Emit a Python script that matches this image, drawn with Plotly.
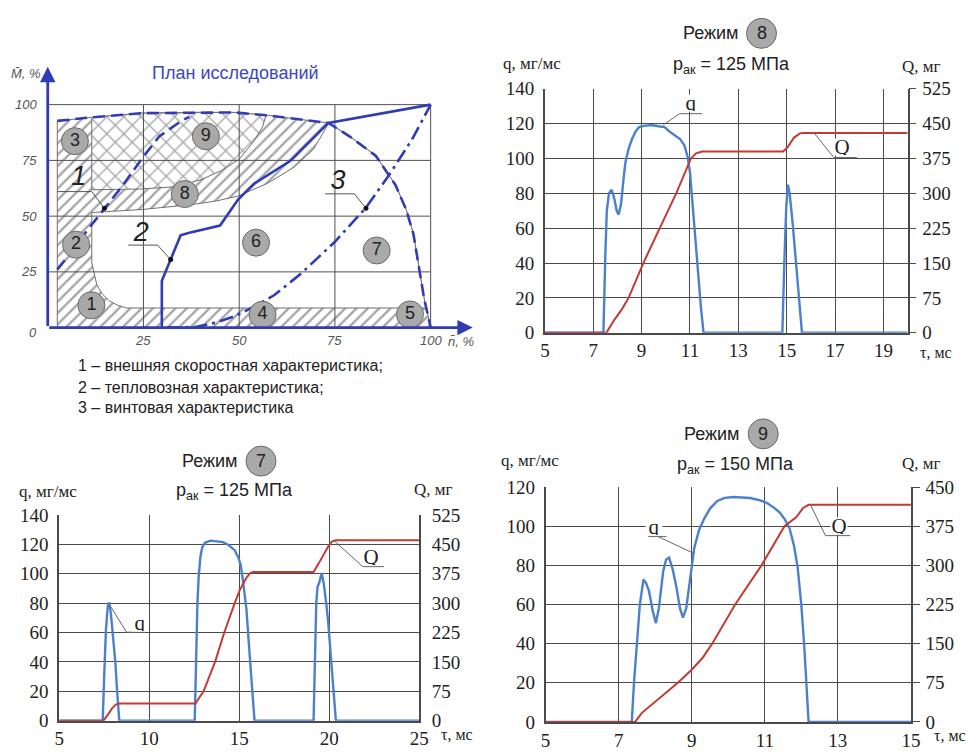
import plotly.graph_objects as go

W, H = 978, 756


def fx(p):
    return p / W


def fy(p):
    return 1 - p / H


# ---------------------------------------------------------------- research plan
GRID_PCT = [25, 50, 75, 100]

# external speed characteristic (dashed): upper branch and falling branch
ext_top_n = [2.5, 11.5, 24.8, 40.3, 48.8, 57.4, 65.1, 73.3]
ext_top_M = [92.7, 94.3, 96.2, 96.6, 96.5, 95.2, 93.7, 91.8]
ext_fall_n = [73.3, 78.8, 85.7, 90.8, 93.6, 95.5, 96.8, 98.3, 99.3, 100.0]
ext_fall_M = [91.8, 85.8, 77.0, 64.0, 53.0, 42.0, 27.6, 13.0, 5.5, 0.0]
# rising dashed branch (line 1)
ext_rise_n = [2.5, 5.6, 10.3, 15.0, 19.7, 24.8, 29.1, 35.1, 37.0]
ext_rise_M = [26.0, 32.7, 43.6, 53.8, 64.0, 76.3, 85.7, 93.0, 94.5]
# locomotive characteristic (line 2)
loco_n = [29.8, 29.8, 34.7, 37.0, 45.0, 49.7, 54.0, 63.4, 73.3, 100.0]
loco_M = [0.0, 21.0, 41.4, 42.5, 45.8, 57.4, 64.7, 74.8, 91.8, 100.0]
# propeller characteristic (line 3)
prop_n = [31.0, 38.6, 43.7, 48.8, 53.1, 59.1, 66.0, 75.0, 83.1, 89.1, 95.1, 100.0]
prop_M = [0.0, 0.3, 2.2, 5.1, 8.7, 14.5, 24.0, 38.5, 53.8, 68.3, 84.3, 100.0]

# boundaries of the zones
zone_left_n = 2.5
strip_top_M = 8.8
strip_end_n = 98.8
corner_n = [11.5, 11.5, 12.8, 14.2, 16.0, 18.2, 20.5]
corner_M = [51.6, 29.0, 19.3, 15.2, 12.1, 10.1, 8.8]
zone8_low_n = [11.5, 24.8, 37.7, 44.0, 49.7, 57.4, 64.3, 69.4, 72.4, 73.3]
zone8_low_M = [51.6, 53.0, 55.2, 56.8, 59.0, 64.7, 71.9, 80.0, 88.7, 91.8]
zone9_n = [11.5, 11.5, 24.8, 40.3, 48.8, 57.0, 56.1, 54.0, 50.0, 45.4, 40.3, 33.4, 24.8, 11.5]
zone9_M = [61.8, 94.3, 96.2, 96.6, 96.5, 95.3, 90.0, 84.0, 75.5, 70.5, 66.5, 63.2, 62.2, 61.8]

# operating modes
mode_ids = ["1", "2", "3", "4", "5", "6", "7", "8", "9"]
mode_n = [11.4, 7.4, 7.1, 56.1, 94.6, 54.4, 85.9, 35.8, 41.3]
mode_M = [10.0, 37.2, 83.6, 5.8, 5.9, 38.1, 34.6, 59.9, 85.8]

# callouts of the characteristics: text position, underline, leader target
callout_txt = ["1", "2", "3"]
callout_n = [8.1, 24.4, 75.8]
callout_M = [67.0, 42.0, 65.0]
callout_u0 = [2.5, 21.0, 72.4]
callout_u1 = [11.5, 28.7, 80.1]
callout_uM = [61.0, 37.0, 60.0]
callout_start = [11.5, 28.7, 80.1]
callout_tn = [14.8, 32.1, 83.1]
callout_tM = [53.5, 30.5, 53.5]

legend_lines = [
    "1 – внешняя скоростная характеристика;",
    "2 – тепловозная характеристика;",
    "3 – винтовая характеристика",
]
legend_y = [366, 388, 409]

# ---------------------------------------------------------------- mode 8
t8_q = [5, 7.42, 7.5, 7.56, 7.65, 7.76, 7.87, 7.97, 8.05, 8.15, 8.25, 8.33, 8.47, 8.6, 8.75,
        8.9, 9.1, 9.4, 9.7, 9.95, 10.15, 10.36, 10.6, 10.77, 10.9, 11.0, 11.1, 11.2, 11.31,
        11.45, 11.56, 14.82, 14.9, 14.98, 15.05, 15.12, 15.25, 15.4, 15.52, 15.63, 20]
q8 = [0, 0, 45, 70, 80, 82, 77, 70, 67.8, 74, 88, 97.8, 106, 111, 115.5,
      118, 118.7, 119.2, 118.5, 118, 115.5, 113.5, 111, 107.5, 101, 92, 75, 55, 36,
      15, 0, 0, 40, 72, 85, 80, 62, 38, 17, 0, 0]
t8_Q = [5, 7.54, 7.9, 8.2, 8.46, 9.07, 9.75, 10.43, 11.04, 11.25, 11.5, 14.85, 15.05,
        15.3, 15.55, 15.7, 20]
Q8 = [0, 0, 30, 52, 75, 150, 225, 300, 375, 386, 390, 390, 400, 420, 429, 430, 430]

# ---------------------------------------------------------------- mode 7
t7_q = [5, 7.42, 7.5, 7.6, 7.7, 7.78, 7.88, 8.0, 8.12, 8.22, 8.34, 12.53, 12.6, 12.68,
        12.75, 12.85, 12.95, 13.1, 13.4, 13.8, 14.1, 14.4, 14.75, 14.95, 15.08, 15.2, 15.3,
        15.4, 15.55, 15.7, 15.85, 19.13, 19.2, 19.28, 19.35, 19.45, 19.58, 19.7, 19.85,
        19.95, 20.1, 20.25, 20.37, 25]
q7 = [0, 0, 30, 62, 78, 80.5, 72, 58, 40, 20, 0, 0, 40, 80,
      98, 112, 118, 121, 122.5, 122, 121.5, 119.5, 116, 111, 106, 96, 86,
      76, 50, 25, 0, 0, 45, 80, 91, 94, 100.5, 93, 78,
      66, 42, 18, 0, 0]
t7_Q = [5, 7.46, 7.7, 7.95, 8.15, 8.35, 12.57, 13.02, 13.66, 14.17, 14.75, 15.03, 15.39,
        15.6, 15.76, 19.13, 19.4, 19.7, 19.95, 20.15, 20.35, 25]
Q7 = [0, 0, 15, 32, 41, 44, 44, 75, 150, 225, 300, 333, 364, 376, 379, 379, 400, 425,
      445, 457, 460, 460]

# ---------------------------------------------------------------- mode 9
t9_q = [5, 7.36, 7.42, 7.5, 7.58, 7.68, 7.75, 7.83, 7.93, 8.02, 8.1, 8.22, 8.3, 8.38,
        8.48, 8.58, 8.68, 8.76, 8.85, 8.94, 9.07, 9.2, 9.34, 9.5, 9.7, 9.9, 10.15, 10.6,
        10.85, 11.05, 11.25, 11.41, 11.55, 11.68, 11.8, 11.9, 12.0, 12.08, 12.15, 12.2, 15]
q9 = [0, 0, 20, 39, 60, 72.8, 71, 67, 57, 50.5, 58, 77, 83, 84,
      78, 69, 58, 53.3, 58, 70.7, 88.9, 98, 103.8, 109, 112.9, 114.5, 114.9, 114.4,
      113.3, 112, 109.5, 107, 103.5, 98.8, 90, 79, 60, 39, 18, 0, 0]
t9_Q = [5, 7.45, 7.63, 7.85, 8.08, 8.35, 8.62, 9.0, 9.3, 9.56, 10.19, 10.91, 11.54, 11.86,
        12.05, 12.2, 15]
Q9 = [0, 0, 17, 30, 42, 58, 75, 100, 123, 150, 225, 300, 375, 392, 410, 416, 416]

# ---------------------------------------------------------------- styling
DIAG_BLUE = "#2f3cb4"
Q_BLUE = "#4a80cc"
Q_RED = "#c23a32"
GRID = "#4a4a4a"
SERIF = "Liberation Serif, Times New Roman, serif"
SANS = "Liberation Sans, Arial, sans-serif"

fig = go.Figure()


def diag(trace):
    trace.update(hoverinfo="skip", showlegend=False, xaxis="x", yaxis="y")
    fig.add_trace(trace)


# hatched area of the plan (zones 1-5, 8)
hatch_n = [zone_left_n] + ext_top_n + ext_fall_n[1:] + [zone_left_n]
hatch_M = [0.0] + ext_top_M + ext_fall_M[1:] + [0.0]
diag(go.Scatter(
    x=hatch_n, y=hatch_M, mode="lines", fill="toself",
    line=dict(color="#707070", width=1),
    fillpattern=dict(shape="/", size=8, solidity=0.28, fgcolor="#4a4a4a", bgcolor="white")))

# clear zones 6 and 7
fall_rev_n = [n for n, m in zip(ext_fall_n, ext_fall_M) if m > strip_top_M][::-1]
fall_rev_M = [m for m in ext_fall_M if m > strip_top_M][::-1]
white_n = corner_n + [strip_end_n] + fall_rev_n + zone8_low_n[::-1]
white_M = corner_M + [strip_top_M] + fall_rev_M + zone8_low_M[::-1]
diag(go.Scatter(x=white_n, y=white_M, mode="lines", fill="toself", fillcolor="white",
                line=dict(color="#707070", width=1)))

# cross-hatched zone 9
diag(go.Scatter(
    x=zone9_n, y=zone9_M, mode="lines", fill="toself",
    line=dict(color="#707070", width=1),
    fillpattern=dict(shape="x", size=12, solidity=0.2, fgcolor="#4a4a4a", bgcolor="white")))

# grid of the plan
gx, gy = [], []
for v in GRID_PCT:
    gx += [v, v, None, 0, 100, None]
    gy += [0, 100, None, v, v, None]
diag(go.Scatter(x=gx, y=gy, mode="lines", line=dict(color="#505050", width=1)))

# characteristics
diag(go.Scatter(x=ext_top_n + ext_fall_n[1:], y=ext_top_M + ext_fall_M[1:], mode="lines",
                line=dict(color=DIAG_BLUE, width=2.6, dash="12px,6px")))
diag(go.Scatter(x=ext_rise_n, y=ext_rise_M, mode="lines",
                line=dict(color=DIAG_BLUE, width=2.6, dash="12px,6px")))
diag(go.Scatter(x=loco_n, y=loco_M, mode="lines", line=dict(color=DIAG_BLUE, width=2.6)))
diag(go.Scatter(x=prop_n, y=prop_M, mode="lines",
                line=dict(color=DIAG_BLUE, width=2.6, dash="14px,5px,3px,5px")))

# callout leaders
lx, ly = [], []
for i in range(len(callout_txt)):
    lx += [callout_u0[i], callout_u1[i], None, callout_start[i], callout_tn[i], None]
    ly += [callout_uM[i], callout_uM[i], None, callout_uM[i], callout_tM[i], None]
diag(go.Scatter(x=lx, y=ly, mode="lines", line=dict(color="#555", width=1)))
diag(go.Scatter(x=callout_tn, y=callout_tM, mode="markers", marker=dict(color="#111", size=5)))
diag(go.Scatter(x=callout_n, y=callout_M, mode="text", text=callout_txt,
                textfont=dict(family=SANS, size=27, color="#222", style="italic")))

# mode markers
diag(go.Scatter(
    x=mode_n, y=mode_M, mode="markers+text", text=mode_ids, textposition="middle center",
    marker=dict(size=27, color="#a9a9a9", line=dict(color="#6a6a6a", width=1)),
    textfont=dict(family=SANS, size=18, color="#222")))


# ---------------------------------------------------------------- injection charts
def add_chart(xa, ya, yQ, tq, q, tQ, Q):
    fig.add_trace(go.Scatter(x=tq, y=q, mode="lines", line=dict(color=Q_BLUE, width=2.4),
                             hoverinfo="skip", showlegend=False, xaxis=xa, yaxis=ya))
    fig.add_trace(go.Scatter(x=tQ, y=Q, mode="lines", line=dict(color=Q_RED, width=2),
                             hoverinfo="skip", showlegend=False, xaxis=xa, yaxis=yQ))


add_chart("x2", "y2", "y3", t8_q, q8, t8_Q, Q8)
add_chart("x3", "y4", "y5", t7_q, q7, t7_Q, Q7)
add_chart("x4", "y6", "y7", t9_q, q9, t9_Q, Q9)

tickfont = dict(family=SERIF, size=19, color="#222")


def xstyle(dom, anchor, rng, vals):
    return dict(domain=dom, anchor=anchor, range=rng, tickvals=vals, showgrid=True,
                gridcolor=GRID, gridwidth=1, showline=True, linecolor=GRID, linewidth=1.5,
                ticks="", zeroline=False, tickfont=tickfont, fixedrange=True)


def ystyle(dom, anchor, rng, dt):
    return dict(domain=dom, anchor=anchor, range=rng, dtick=dt, showgrid=True,
                gridcolor=GRID, gridwidth=1, showline=True, linecolor=GRID, linewidth=1.5,
                ticks="", zeroline=False, tickfont=tickfont, ticklabelstandoff=5,
                fixedrange=True)


def y2style(over, anchor, rng, dt, tick):
    return dict(overlaying=over, anchor=anchor, side="right", range=rng, dtick=dt,
                showgrid=False, showline=True, linecolor=GRID, linewidth=1.5,
                ticks="outside" if tick else "", ticklen=7, tickcolor=GRID,
                zeroline=False, tickfont=tickfont, ticklabelstandoff=2 if tick else 7,
                fixedrange=True)


layout_axes = dict(
    xaxis=dict(domain=[0, fx(480)], anchor="y", range=[-11.16, 112.27], visible=False,
               fixedrange=True),
    yaxis=dict(domain=[fy(350), fy(40)], anchor="x", range=[-10.16, 125.0], visible=False,
               fixedrange=True),
    xaxis2=xstyle([fx(548.3), fx(916.7)], "y2", [5, 20], [5, 7, 9, 11, 13, 15, 17, 19]),
    yaxis2=ystyle([fy(332), fy(81)], "x2", [0, 140], 20),
    yaxis3=y2style("y2", "x2", [0, 525], 75, True),
    xaxis3=xstyle([fx(55), fx(420.7)], "y4", [5, 25], [5, 10, 15, 20, 25]),
    yaxis4=ystyle([fy(731), fy(519.3)], "x3", [0, 140], 20),
    yaxis5=y2style("y4", "x3", [0, 525], 75, False),
    xaxis4=xstyle([fx(549), fx(920)], "y6", [5, 15], [5, 7, 9, 11, 13, 15]),
    yaxis6=ystyle([fy(732.3), fy(490.7)], "x4", [0, 120], 20),
    yaxis7=y2style("y6", "x4", [0, 450], 75, True),
)

ann = []
shapes = []


def paper_text(x, y, text, size, family=SANS, color="#222", xanchor="center", **kw):
    ann.append(dict(x=fx(x), y=fy(y), xref="paper", yref="paper", text=text,
                    showarrow=False, xanchor=xanchor, yanchor="middle",
                    font=dict(family=family, size=size, color=color, **kw)))


# plan: axes with arrows
for tip in [(0, 117), (111, 0)]:
    ann.append(dict(x=tip[0], y=tip[1], ax=0, ay=0, xref="x", yref="y", axref="x",
                    ayref="y", text="", showarrow=True, arrowhead=2, arrowsize=1.1,
                    arrowwidth=2.8, arrowcolor=DIAG_BLUE))
tick_font = dict(family=SANS, size=13, color="#555", style="italic")
for v in GRID_PCT:
    ann.append(dict(x=-2.3, y=v, xref="x", yref="y", text=str(v), showarrow=False,
                    xanchor="right", yanchor="middle", font=tick_font))
    ann.append(dict(x=v, y=-6.0, xref="x", yref="y", text=str(v), showarrow=False,
                    xanchor="center", yanchor="middle", font=tick_font))
ann.append(dict(x=-2.3, y=-2.2, xref="x", yref="y", text="0", showarrow=False,
                xanchor="right", yanchor="middle", font=tick_font))
ann.append(dict(x=108, y=-6.3, xref="x", yref="y", text="n\u0304, %", showarrow=False,
                xanchor="center", yanchor="middle", font=tick_font))
ann.append(dict(x=-5.6, y=114, xref="x", yref="y", text="M\u0304, %", showarrow=False,
                xanchor="center", yanchor="middle", font=tick_font))
paper_text(234, 65, "План исследований", 18, color="#3a48bd")

for line, yy in zip(legend_lines, legend_y):
    paper_text(72, yy, line, 16, xanchor="left")

# chart headers
headers = [
    dict(mode="8", p="125", rx=716.7, ry=24, cx=768.3, px_=737.5, py_=57,
         qx=535, qy=55, Qx=931, Qy=58, tx=946, ty=352),
    dict(mode="7", p="125", rx=208, ry=464, cx=260, px_=233.3, py_=495,
         qx=43.7, qy=495, Qx=435, Qy=493, tx=459, ty=745),
    dict(mode="9", p="150", rx=718.3, ry=436, cx=770, px_=741.5, py_=468,
         qx=533.3, qy=463, Qx=931, Qy=466, tx=960, ty=746),
]
for h in headers:
    paper_text(h["rx"], h["ry"], "Режим", 18)
    shapes.append(dict(type="circle", xref="paper", yref="paper",
                       xsizemode="pixel", ysizemode="pixel",
                       xanchor=fx(h["cx"]), yanchor=fy(h["ry"]),
                       x0=-15, x1=15, y0=-15, y1=15,
                       fillcolor="#a9a9a9", line=dict(color="#6a6a6a", width=1)))
    paper_text(h["cx"], h["ry"], h["mode"], 18)
    paper_text(h["px_"], h["py_"], "p<sub>ак</sub> = " + h["p"] + " МПа", 18)
    paper_text(h["qx"], h["qy"], "q, мг/мс", 17, family=SERIF)
    paper_text(h["Qx"], h["Qy"], "Q, мг", 17, family=SERIF)
    paper_text(h["tx"], h["ty"], "τ, мс", 16, family=SERIF)

# curve callouts: (axes, label, text pos, underline, leader start, leader end)
callouts = [
    ("x2", "y2", "q", (11.04, 132), (10.57, 11.5, 125.7), 10.57, (9.89, 119.2)),
    ("x2", "y3", "Q", (17.3, 400), (16.95, 17.9, 377), 16.95, (16.13, 430)),
    ("x3", "y4", "q", (9.5, 66.5), (8.74, 9.83, 60.2), 8.74, (7.79, 79)),
    ("x3", "y5", "Q", (22.3, 418), (21.86, 23.05, 393), 21.86, (20.28, 459)),
    ("x4", "y6", "q", (7.98, 99.5), (7.81, 8.31, 94.7), 8.08, (9.07, 86)),
    ("x4", "y7", "Q", (13.02, 375), (12.66, 13.34, 357), 12.66, (12.26, 415)),
]
for xa, ya, lab, (tx, ty), (u0, u1, uy), sx, (ex, ey) in callouts:
    ann.append(dict(x=tx, y=ty, xref=xa, yref=ya, text=lab, showarrow=False,
                    xanchor="center", yanchor="middle", bgcolor="white", borderpad=0,
                    width=16, height=16, valign="middle",
                    font=dict(family=SERIF, size=21, color="#222")))
    shapes.append(dict(type="line", xref=xa, yref=ya, x0=u0, x1=u1, y0=uy, y1=uy,
                       line=dict(color="#666", width=1)))
    shapes.append(dict(type="line", xref=xa, yref=ya, x0=sx, x1=ex, y0=uy, y1=ey,
                       line=dict(color="#666", width=1)))

fig.update_layout(
    width=W, height=H, margin=dict(l=0, r=0, t=0, b=0),
    paper_bgcolor="white", plot_bgcolor="rgba(0,0,0,0)",
    showlegend=False, annotations=ann, shapes=shapes, **layout_axes)

fig.write_html("out.html")
